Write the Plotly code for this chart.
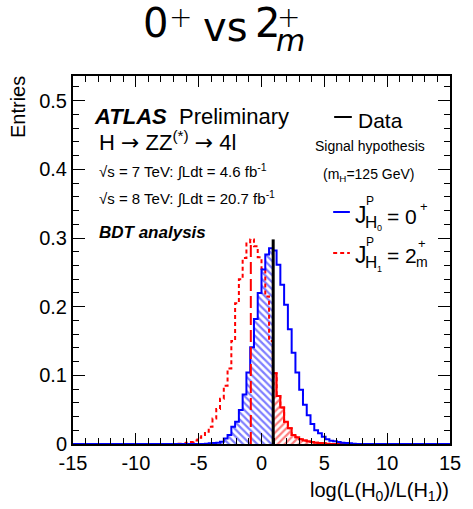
import numpy as np
import plotly.graph_objects as go

# ---------------- data ----------------
x_min, x_max = -15.0, 15.0
bin_width = 0.3
n_bins = 100

# 0+ hypothesis (blue), values per bin starting at left edge blue_first_edge
blue_first_edge = -4.5
blue_vals = [0.0005, 0.001, 0.0015, 0.002, 0.0034, 0.008, 0.013, 0.025, 0.0325, 0.0496,
             0.072, 0.104, 0.141, 0.182, 0.22, 0.254, 0.276, 0.285, 0.282, 0.261,
             0.232, 0.203, 0.167, 0.133, 0.104, 0.079, 0.057, 0.042, 0.029, 0.020,
             0.0156, 0.0107, 0.0068, 0.0048, 0.004, 0.003, 0.002, 0.0015, 0.001, 0.0005]

# 2+m hypothesis (red)
red_first_edge = -6.6
red_vals = [0.0005, 0.001, 0.002, 0.003, 0.005, 0.009, 0.013, 0.018, 0.025, 0.037,
            0.051, 0.066, 0.085, 0.11, 0.15, 0.205, 0.24, 0.271, 0.294, 0.298,
            0.288, 0.272, 0.255, 0.215, 0.15, 0.103, 0.07, 0.053, 0.0325, 0.023,
            0.013, 0.0097, 0.0068, 0.005, 0.004, 0.003, 0.002, 0.0015, 0.001, 0.0005]

data_value = 0.93       # observed
red_median = -0.85      # median of 2+m
marker_height = 0.298

x_tickvals = [-15, -10, -5, 0, 5, 10, 15]
x_ticktext = ["-15", "-10", "-5", "0", "5", "10", "15"]
y_tickvals = [0, 0.1, 0.2, 0.3, 0.4, 0.5]
y_ticktext = ["0", "0.1", "0.2", "0.3", "0.4", "0.5"]

# ---------------- layout geometry ----------------
W, H = 473, 509
ML, MR, MT, MB = 73, 16, 76, 65
PW, PH = W - ML - MR, H - MT - MB
Y_MAX = 0.536

def px(x):
    return (x - ML) / PW

def py(y):
    return (H - MB - y) / PH

BLUE = "rgb(0,0,255)"
RED = "rgb(255,0,0)"
ROOTF = "Liberation Sans"

edges = x_min + bin_width * np.arange(n_bins + 1)

def full(first_edge, vals):
    arr = np.zeros(n_bins)
    i0 = int(round((first_edge - x_min) / bin_width))
    arr[i0:i0 + len(vals)] = vals
    return arr

blue = full(blue_first_edge, blue_vals)
red = full(red_first_edge, red_vals)

def step(arr):
    return list(edges[:-1]) + [edges[-1]], list(arr) + [arr[-1]]

k_data = int(np.floor((data_value - x_min) / bin_width + 1e-9))

fig = go.Figure()

# blue hatched: left of data
bx = list(edges[:k_data + 1]) + [data_value]
by = list(blue[:k_data + 1]) + [blue[k_data]]
fig.add_trace(go.Scatter(x=bx, y=by, mode="lines", line=dict(width=0, shape="hv", color=BLUE),
                         fill="tozeroy", fillcolor="rgba(0,0,0,0)",
                         fillpattern=dict(shape="\\", fgcolor=BLUE, bgcolor="rgba(0,0,0,0)",
                                          size=5, solidity=0.45),
                         hoverinfo="skip", showlegend=False))

# red hatched: right of data
rx = [data_value] + list(edges[k_data + 1:-1]) + [edges[-1]]
ry = [red[k_data]] + list(red[k_data + 1:]) + [red[-1]]
fig.add_trace(go.Scatter(x=rx, y=ry, mode="lines", line=dict(width=2, shape="hv", color=RED),
                         fill="tozeroy", fillcolor="rgba(0,0,0,0)",
                         fillpattern=dict(shape="/", fgcolor=RED, bgcolor="rgba(0,0,0,0)",
                                          size=5, solidity=0.45),
                         hoverinfo="skip", showlegend=False))

# red dashed histogram
sx, sy = step(red)
fig.add_trace(go.Scatter(x=sx, y=sy, mode="lines",
                         line=dict(width=2, shape="hv", color=RED, dash="4px,3px"),
                         hoverinfo="skip", showlegend=False))
# blue histogram
sx, sy = step(blue)
fig.add_trace(go.Scatter(x=sx, y=sy, mode="lines",
                         line=dict(width=2, shape="hv", color=BLUE),
                         hoverinfo="skip", showlegend=False))
# red median line
fig.add_trace(go.Scatter(x=[red_median, red_median], y=[0, marker_height], mode="lines",
                         line=dict(width=2, color=RED, dash="12px,5px"),
                         hoverinfo="skip", showlegend=False))
# data line
fig.add_trace(go.Scatter(x=[data_value, data_value], y=[0, marker_height], mode="lines",
                         line=dict(width=3, color="black"),
                         hoverinfo="skip", showlegend=False))

ann = []
def text(t, x, y, size, xanchor="left", family=ROOTF, color="black", angle=0,
         yanchor="middle", weight="normal", height=None):
    a = dict(text=t, x=px(x), y=py(y), xref="paper", yref="paper",
             xanchor=xanchor, yanchor=yanchor, showarrow=False, textangle=angle,
             font=dict(family=family, size=size, color=color, weight=weight))
    if height is not None:
        a["height"] = height
        a["valign"] = "middle"
    ann.append(a)

# title
TF = "DejaVu Sans"
text("0", 157.5, 23, 40, "center", TF)
text("+", 182, 17, 28, "center", TF, weight=200, height=24)
text("vs", 228.5, 27, 40, "center", TF)
text("2", 271, 23, 40, "center", TF)
text("+", 293, 17, 28, "center", TF, weight=200, height=24)
text("<i>m</i>", 295, 40, 30, "center", TF, height=24)

ARROW = "<span style='font-family:DejaVu Sans'>→</span>"

# ATLAS block
text("<b><i>ATLAS</i></b>", 92, 116, 22)
text("Preliminary", 179, 116, 22)
text("H " + ARROW + " ZZ<sup>(*)</sup> " + ARROW + " 4l", 97, 141, 22)
text("√s = 7 TeV: ∫Ldt = 4.6 fb<sup>-1</sup>", 97, 171, 15)
text("√s = 8 TeV: ∫Ldt = 20.7 fb<sup>-1</sup>", 97, 198, 15)
text("<b><i>BDT analysis</i></b>", 97, 232, 17)

# legend block
text("Data", 361, 120, 21)
text("Signal hypothesis", 375.5, 146, 14, "center")
text("(m<sub>H</sub>=125 GeV)", 374.5, 175, 14, "center")
# J^P_H0 = 0+
text("J", 358, 215, 23)
text("P", 369, 201, 12)
text("H", 368, 222, 17)
text("0", 381, 228, 9)
text("= 0", 391, 216, 21)
text("+", 424, 206, 13)
# J^P_H1 = 2+m
text("J", 358, 255, 23)
text("P", 369, 242, 12)
text("H", 368, 262, 17)
text("1", 381, 269, 9)
text("= 2", 391, 256, 21)
text("+", 422, 243, 13)
text("m", 420, 262, 14)

# axis titles
text("log(L(H<sub>0</sub>)/L(H<sub>1</sub>))", 458, 492, 20, "right")
text("Entries", 17, 74, 20, "center", angle=-90, yanchor="top")

shapes = [
    dict(type="line", xref="paper", yref="paper", x0=px(339), x1=px(357), y0=py(117), y1=py(117),
         line=dict(color="black", width=2)),
    dict(type="line", xref="paper", yref="paper", x0=px(338), x1=px(355), y0=py(212), y1=py(212),
         line=dict(color=BLUE, width=2)),
    dict(type="line", xref="paper", yref="paper", x0=px(338), x1=px(355), y0=py(253), y1=py(253),
         line=dict(color=RED, width=2, dash="4px,3px")),
]

fig.update_layout(
    width=W, height=H, margin=dict(l=ML, r=MR, t=MT, b=MB, pad=0),
    paper_bgcolor="white", plot_bgcolor="white",
    showlegend=False, annotations=ann, shapes=shapes,
    font=dict(family=ROOTF, size=20, color="black"),
)
fig.update_xaxes(range=[x_min, x_max], tickmode="array", tickvals=x_tickvals, ticktext=x_ticktext,
                 ticks="inside", ticklen=11, tickwidth=1, tickcolor="black",
                 minor=dict(ticks="inside", dtick=1, ticklen=6, tickwidth=1, tickcolor="black"),
                 showline=True, linecolor="black", linewidth=2, mirror="ticks",
                 showgrid=False, zeroline=False, tickfont=dict(size=20, family=ROOTF))
fig.update_yaxes(range=[0, Y_MAX], tickmode="array", tickvals=y_tickvals, ticktext=y_ticktext,
                 ticks="inside", ticklen=12, tickwidth=1, tickcolor="black",
                 minor=dict(ticks="inside", dtick=0.02, ticklen=6, tickwidth=1, tickcolor="black"),
                 showline=True, linecolor="black", linewidth=2, mirror="ticks",
                 showgrid=False, zeroline=False, tickfont=dict(size=20, family=ROOTF))

fig.write_html("out.html")
